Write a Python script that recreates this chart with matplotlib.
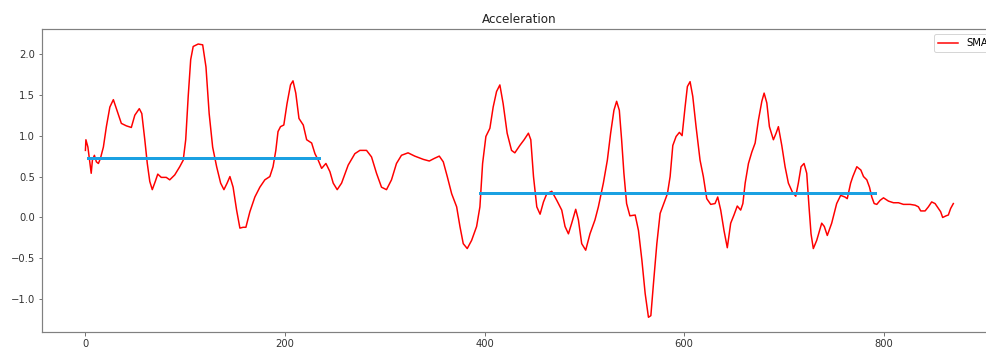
import matplotlib
matplotlib.use('Agg')
import matplotlib.pyplot as plt

# SMA of acceleration
sma_x = [0, 0.5, 2.5, 4.5, 5.8, 7, 9, 11, 13, 15, 18, 21, 24.5, 28, 31, 36, 41, 46,
         49.5, 54, 56.5, 59.5, 62, 64.5, 67, 70, 72.5, 76, 81, 84.5, 89.5, 94.5, 98,
         100.5, 103, 105.5, 108, 113, 117.5, 120.8, 124, 127.5, 131.5, 135.5, 138.8,
         142, 144.8, 148, 151.5, 154.8, 158, 160.8, 164.8, 169.8, 174.8, 179.8, 184.8,
         188, 190.8, 193, 195.5, 198.8, 202, 205.5, 208, 210.8, 214, 218.3, 221.7,
         226.7, 230, 233.3, 236.7, 241, 245, 248.3, 252.3, 256.7, 263.3, 270, 275,
         281.7, 286.7, 291.7, 296.7, 301.7, 306.7, 311.7, 316.7, 323.3, 330, 338.6,
         344.6, 349.3, 354.6, 358.6, 362.6, 367, 372, 375.3, 378.6, 382.6, 387, 392,
         395.3, 398, 401.3, 405.3, 408.6, 412, 415.3, 418.6, 422.6, 427, 430.3, 435.3,
         439.6, 443.9, 446.3, 449, 452.3, 455.6, 459, 462.3, 467.3, 472.3, 477.3,
         480.6, 484, 487.3, 491.3, 494, 497.3, 501.3, 505.6, 510.6, 514, 519, 523,
         526.3, 529.6, 532.3, 535, 537.3, 539.6, 542.3, 545.6, 550.9, 554.2, 557.6,
         560.9, 564.2, 566.6, 569.2, 572.6, 575.9, 579.2, 583.2, 585.9, 588.6, 591.9,
         595.2, 597.9, 600.9, 603.2, 605.9, 608.6, 611.9, 615.9, 619.2, 622.6, 626.6,
         630.9, 633.6, 636.6, 639.9, 643.2, 646.6, 649.9, 653.2, 656.6, 658.8, 661.1,
         664.4, 667.8, 671.1, 674.4, 677.8, 680.1, 682.8, 685.4, 689.4, 692.1, 694.4,
         697.8, 701.1, 704.4, 708.4, 711.8, 714.4, 717.1, 720.1, 722.8, 725.1, 727.1,
         729.4, 732.8, 737.8, 740.4, 743.4, 747.8, 752.8, 756.8, 761.1, 763.4, 766.8,
         769, 773, 777, 779.7, 783, 785.7, 788, 790.4, 793, 796.4, 799.7, 804.7,
         809.7, 814.7, 819.7, 826.4, 831.4, 834.7, 837, 841.4, 844.7, 848, 851.4,
         854.7, 857, 859, 862.4, 864.7, 867, 869.7]
sma_y = [0.82, 0.95, 0.86, 0.66, 0.54, 0.70, 0.76, 0.68, 0.66, 0.72, 0.86, 1.11, 1.35,
         1.44, 1.33, 1.15, 1.12, 1.10, 1.25, 1.33, 1.27, 0.95, 0.66, 0.44, 0.34, 0.44,
         0.53, 0.49, 0.49, 0.46, 0.52, 0.62, 0.70, 0.95, 1.48, 1.93, 2.09, 2.12, 2.11,
         1.84, 1.27, 0.86, 0.62, 0.42, 0.34, 0.42, 0.50, 0.37, 0.09, -0.13, -0.12,
         -0.12, 0.07, 0.25, 0.37, 0.46, 0.50, 0.62, 0.82, 1.05, 1.11, 1.13, 1.39, 1.62,
         1.67, 1.52, 1.21, 1.13, 0.95, 0.91, 0.78, 0.70, 0.60, 0.66, 0.56, 0.42, 0.34,
         0.42, 0.64, 0.78, 0.82, 0.82, 0.74, 0.54, 0.37, 0.34, 0.46, 0.66, 0.76, 0.79,
         0.75, 0.71, 0.69, 0.72, 0.75, 0.68, 0.50, 0.29, 0.13, -0.11, -0.32, -0.38,
         -0.28, -0.11, 0.13, 0.66, 0.99, 1.09, 1.35, 1.54, 1.62, 1.39, 1.03, 0.82, 0.79,
         0.88, 0.95, 1.03, 0.95, 0.50, 0.13, 0.04, 0.19, 0.29, 0.32, 0.21, 0.09, -0.11,
         -0.20, -0.07, 0.10, -0.03, -0.32, -0.40, -0.20, -0.03, 0.13, 0.42, 0.70, 1.03,
         1.31, 1.42, 1.31, 0.95, 0.54, 0.17, 0.02, 0.03, -0.16, -0.52, -0.93, -1.22,
         -1.20, -0.81, -0.32, 0.05, 0.16, 0.29, 0.50, 0.88, 0.99, 1.04, 1.00, 1.35, 1.60,
         1.66, 1.48, 1.11, 0.70, 0.50, 0.23, 0.16, 0.17, 0.25, 0.09, -0.16, -0.37,
         -0.07, 0.03, 0.14, 0.09, 0.17, 0.42, 0.66, 0.80, 0.91, 1.19, 1.42, 1.52, 1.40,
         1.11, 0.95, 1.03, 1.11, 0.88, 0.62, 0.42, 0.31, 0.26, 0.42, 0.62, 0.66, 0.54,
         0.13, -0.20, -0.38, -0.28, -0.07, -0.11, -0.22, -0.07, 0.17, 0.27, 0.25, 0.23,
         0.42, 0.50, 0.62, 0.58, 0.50, 0.46, 0.37, 0.25, 0.17, 0.16, 0.21, 0.24, 0.20,
         0.18, 0.18, 0.16, 0.16, 0.15, 0.13, 0.08, 0.08, 0.13, 0.19, 0.17, 0.11, 0.07,
         0.00, 0.02, 0.03, 0.11, 0.17]

# mean levels of the two segments
seg_start = [3, 395]
seg_end = [234, 791]
seg_level = [0.73, 0.30]

fig = plt.figure(figsize=(986 / 72, 350 / 72), dpi=72)
# axes runs past the right edge, as in the cropped reference
ax = fig.add_axes([0.0426, 0.0514, 0.9686, 0.8649])

ax.plot(sma_x, sma_y, color='red', lw=1.5, label='SMA')
for x0, x1, lvl in zip(seg_start, seg_end, seg_level):
    ax.plot([x0, x1], [lvl, lvl], color='#1ba1e2', lw=3)

ax.set_xlim(-43.5, 913.5)
ax.set_ylim(-1.4, 2.3)
ax.set_xticks([0, 200, 400, 600, 800])
ax.set_yticks([-1.0, -0.5, 0.0, 0.5, 1.0, 1.5, 2.0])
ax.set_title('Acceleration', color='#222222')
for s in ax.spines.values():
    s.set_color('#808080')
    s.set_linewidth(1.2)
ax.tick_params(colors='#555555', labelcolor='#333333')
ax.legend(loc='upper right')

fig.savefig('out.png', dpi=72)
